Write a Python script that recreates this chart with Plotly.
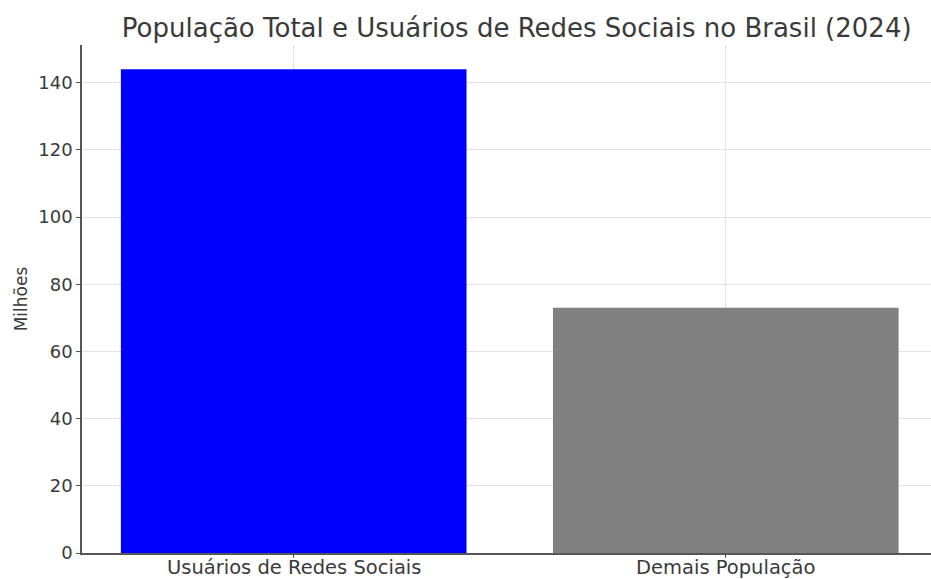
import plotly.graph_objects as go

categories = ["Usuários de Redes Sociais", "Demais População"]
values = [144, 73]
colors = ["#0000ff", "#808080"]
y_ticks = [0, 20, 40, 60, 80, 100, 120, 140]

fig = go.Figure()
fig.add_trace(go.Bar(
    x=[0, 1], y=values, width=0.8,
    marker=dict(color=colors, line=dict(width=0)),
    hoverinfo="skip",
))

font_family = "DejaVu Sans"
fig.update_layout(
    width=931, height=579,
    margin=dict(l=82, r=0, t=45, b=26),
    paper_bgcolor="white", plot_bgcolor="white",
    showlegend=False,
    font=dict(family=font_family, color="#3a3a3a", size=19),
    title=dict(
        text="População Total e Usuários de Redes Sociais no Brasil (2024)",
        x=0.555, xanchor="center", y=0.952, yanchor="middle",
        font=dict(size=26, color="#3a3a3a", family=font_family),
    ),
)
# category labels placed just below the axis as text annotations
for i, cat in enumerate(categories):
    fig.add_annotation(
        x=i, y=0, xref="x", yref="paper",
        text=cat, showarrow=False,
        xanchor="center", yanchor="top", yshift=-1,
        font=dict(size=19.5, color="#3a3a3a", family=font_family),
    )
fig.update_xaxes(
    range=[-0.49, 1.475],
    tickmode="array", tickvals=[0, 1], ticktext=categories,
    showticklabels=False,
    showgrid=True, gridcolor="#e3e3e3", gridwidth=1,
    showline=True, linecolor="#555555", linewidth=1.5,
    ticks="outside", ticklen=3, tickcolor="#555555",
    zeroline=False, automargin=False,
)
fig.update_yaxes(
    range=[0, 151.2],
    tickmode="array", tickvals=y_ticks,
    showgrid=True, gridcolor="#e3e3e3", gridwidth=1,
    showline=True, linecolor="#555555", linewidth=1.5,
    ticks="outside", ticklen=4, tickcolor="#555555",
    tickfont=dict(size=18),
    title=dict(text="Milhões", font=dict(size=17), standoff=6),
    zeroline=False, automargin=False,
)
fig.write_html("out.html")
